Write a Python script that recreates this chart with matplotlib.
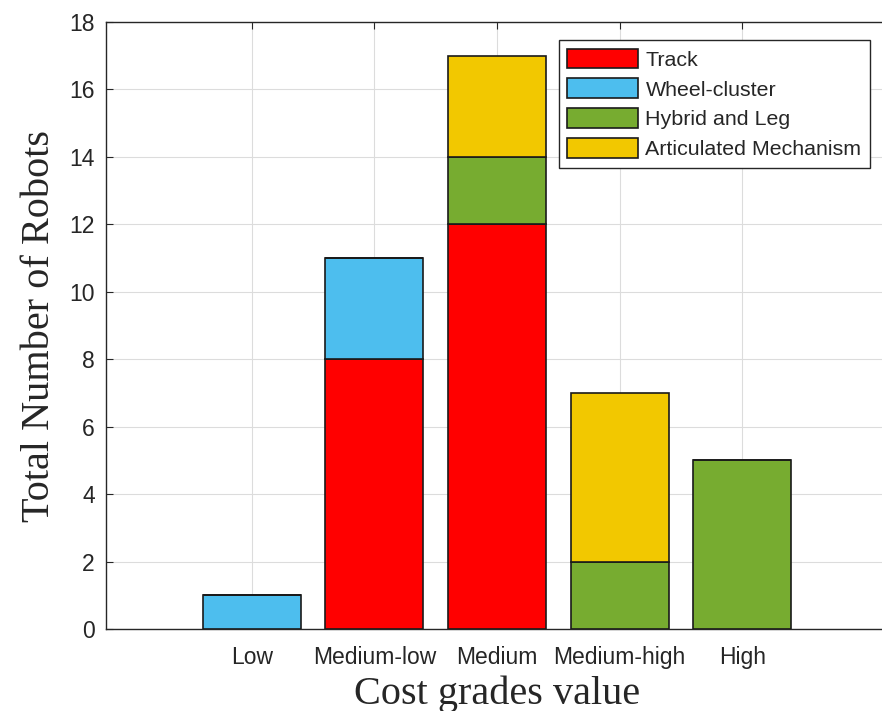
import matplotlib.pyplot as plt
import numpy as np

# cost grades and robot counts per locomotion type
grades = ["Low", "Medium-low", "Medium", "Medium-high", "High"]
track = [0, 8, 12, 0, 0]
wheel_cluster = [1, 3, 0, 0, 0]
hybrid_leg = [0, 0, 2, 2, 5]
articulated = [0, 0, 3, 5, 0]

series = [
    ("Track", track, "#FF0000"),
    ("Wheel-cluster", wheel_cluster, "#4DBEEE"),
    ("Hybrid and Leg", hybrid_leg, "#77AC30"),
    ("Articulated Mechanism", articulated, "#F2C800"),
]

fig = plt.figure(figsize=(8.82, 7.11), dpi=100)
ax = fig.add_axes([106 / 882, 82 / 711, 782 / 882, 607 / 711])

x = np.arange(1, len(grades) + 1)
bottom = np.zeros(len(grades))
for name, vals, color in series:
    vals = np.array(vals, dtype=float)
    ax.bar(x, vals, width=0.8, bottom=bottom, color=color,
           edgecolor="#1a1a1a", linewidth=1.2, label=name, zorder=3)
    bottom += vals

ax.set_xlim(-0.19, 6.19)
ax.set_ylim(0, 18)
ax.set_yticks(np.arange(0, 19, 2))
ax.set_xticks(x)
ax.set_xticklabels(grades)

ax.grid(True, color="#dcdcdc", linewidth=0.8, zorder=0)
ax.set_axisbelow(True)

for side in ["left", "bottom", "top"]:
    ax.spines[side].set_color("#262626")
    ax.spines[side].set_linewidth(1.0)
ax.spines["right"].set_visible(False)

ax.tick_params(direction="in", length=5, width=0.8, color="#262626",
               top=True, labelsize=16.5, labelcolor="#262626")
ax.tick_params(axis="y", pad=8)
ax.tick_params(axis="x", pad=12)
for lbl in ax.get_xticklabels() + ax.get_yticklabels():
    lbl.set_family("Liberation Sans")

ax.set_ylabel("Total Number of Robots", family="Liberation Serif",
              fontsize=29, color="#262626", labelpad=8)
ax.set_xlabel("Cost grades value", family="Liberation Serif",
              fontsize=29, color="#262626", labelpad=5)

leg = ax.legend(loc="upper right", bbox_to_anchor=(870 / 882, 1 - 40 / 711),
                bbox_transform=fig.transFigure, prop={"family": "Liberation Sans", "size": 15.4},
                fancybox=False, framealpha=1, edgecolor="#262626",
                handlelength=3.3, handleheight=1.05, handletextpad=0.35,
                labelspacing=0.4, borderpad=0.4, borderaxespad=0)
leg.get_frame().set_linewidth(1.0)
for t in leg.get_texts():
    t.set_color("#262626")

fig.savefig("out.png", dpi=100)
